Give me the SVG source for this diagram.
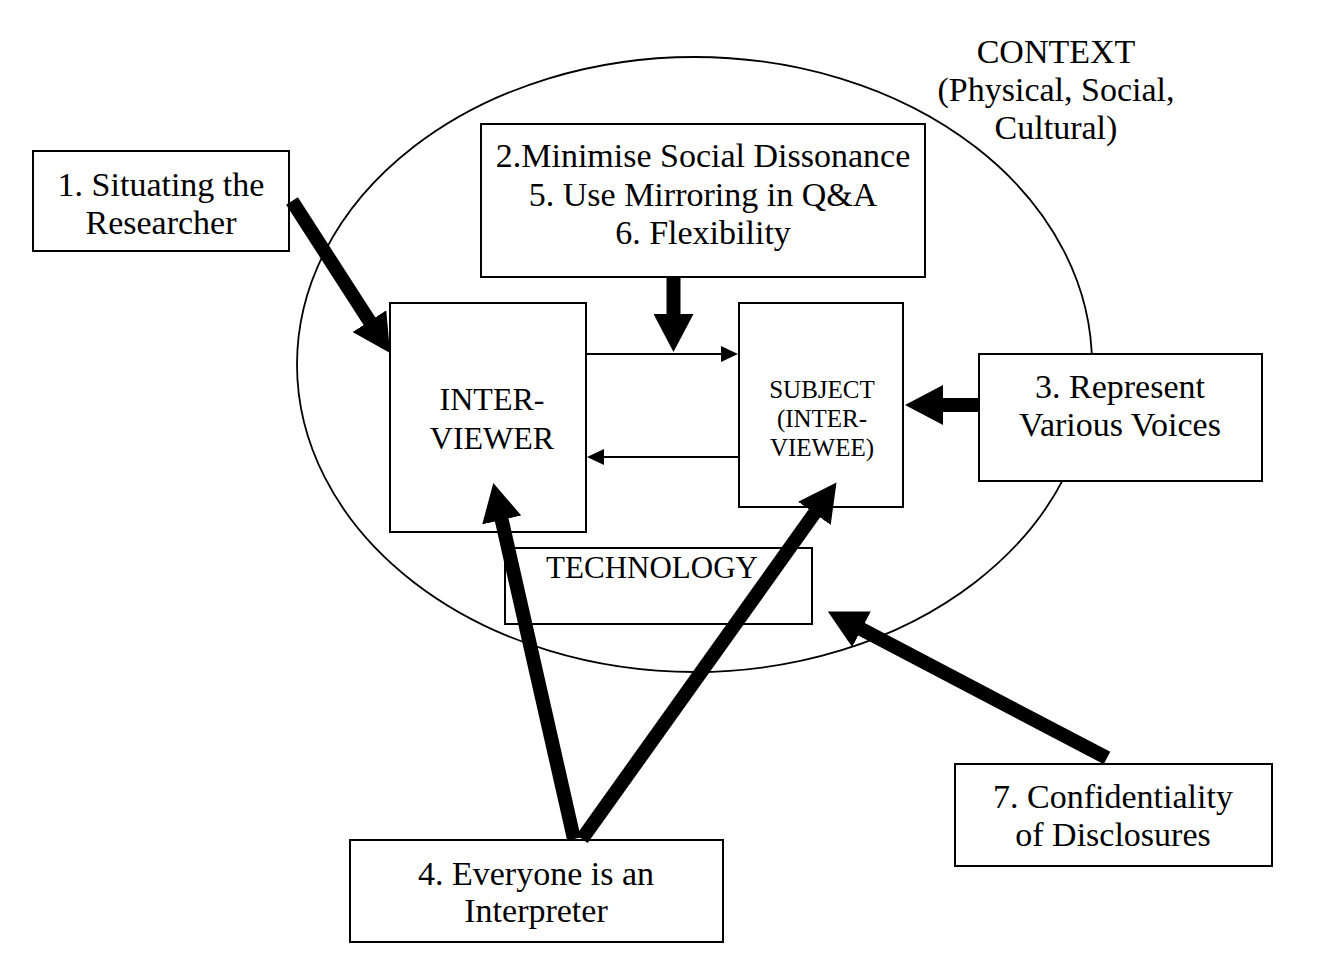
<svg xmlns="http://www.w3.org/2000/svg" width="1322" height="976" viewBox="0 0 1322 976">
<style>
  .box { fill: #fff; stroke: #000; stroke-width: 2; }
  .t { font-family: "Liberation Serif", "Times New Roman", serif; fill: #000; text-anchor: middle; }
  .big { font-size: 34px; }
  .mid { font-size: 32px; }
  .sm { font-size: 25px; }
  .thick { stroke: #000; stroke-width: 14; fill: none; marker-end: url(#head); }
  .thin { stroke: #000; stroke-width: 2; fill: none; marker-end: url(#small); }
</style>
<defs>
  <marker id="head" markerUnits="userSpaceOnUse" markerWidth="38" markerHeight="40" viewBox="0 0 38 40" refX="1" refY="20" orient="auto">
    <path d="M0,0 L38,20 L0,40 z" fill="#000"/>
  </marker>
  <marker id="small" markerUnits="userSpaceOnUse" markerWidth="17" markerHeight="16" viewBox="0 0 17 16" refX="1" refY="8" orient="auto">
    <path d="M0,0 L17,8 L0,16 z" fill="#000"/>
  </marker>
</defs>
<rect width="1322" height="976" fill="#fff"/>

<g id="context">
  <ellipse cx="694.5" cy="364.5" rx="397.5" ry="307.5" fill="none" stroke="#000" stroke-width="1.8"/>
  <text class="t big" x="1056" y="63">CONTEXT</text>
  <text class="t big" x="1056" y="101">(Physical, Social,</text>
  <text class="t big" x="1056" y="139">Cultural)</text>
</g>

<g id="situating">
  <rect class="box" x="33" y="151" width="256" height="100"/>
  <text class="t big" x="161" y="196">1. Situating the</text>
  <text class="t big" x="161" y="234">Researcher</text>
</g>

<g id="principles">
  <rect class="box" x="481" y="124" width="444" height="153"/>
  <text class="t big" x="703" y="167">2.Minimise Social Dissonance</text>
  <text class="t big" x="703" y="206">5. Use Mirroring in Q&amp;A</text>
  <text class="t big" x="703" y="244">6. Flexibility</text>
</g>

<g id="interviewer">
  <rect class="box" x="390" y="303" width="196" height="229"/>
  <text class="t mid" x="492" y="410">INTER-</text>
  <text class="t mid" x="492" y="449">VIEWER</text>
</g>

<g id="subject">
  <rect class="box" x="739" y="303" width="164" height="204"/>
  <text class="t sm" x="822" y="398">SUBJECT</text>
  <text class="t sm" x="822" y="427">(INTER-</text>
  <text class="t sm" x="822" y="456">VIEWEE)</text>
</g>

<g id="voices">
  <rect class="box" x="979" y="354" width="283" height="127"/>
  <text class="t big" x="1120" y="398">3. Represent</text>
  <text class="t big" x="1120" y="436">Various Voices</text>
</g>

<g id="technology">
  <rect class="box" x="505" y="548" width="307" height="76"/>
  <text class="t" style="font-size:31px" x="652" y="578">TECHNOLOGY</text>
</g>

<g id="confidentiality">
  <rect class="box" x="955" y="764" width="317" height="102"/>
  <text class="t big" x="1113" y="808">7. Confidentiality</text>
  <text class="t big" x="1113" y="846">of Disclosures</text>
</g>

<g id="interpreter">
  <rect class="box" x="350" y="840" width="373" height="102"/>
  <text class="t big" x="536" y="885">4. Everyone is an</text>
  <text class="t big" x="536" y="922">Interpreter</text>
</g>

<g id="connectors">
  <line class="thin" x1="587" y1="354" x2="722" y2="354"/>
  <line class="thin" x1="738" y1="457" x2="603" y2="457"/>
  <line class="thick" x1="292" y1="201" x2="370" y2="322"/>
  <line class="thick" x1="673.5" y1="277" x2="673.5" y2="315"/>
  <line class="thick" x1="979" y1="405" x2="942" y2="405"/>
  <line class="thick" x1="1107" y1="758" x2="860.6" y2="628.8"/>
  <line class="thick" x1="574" y1="839" x2="501.5" y2="519"/>
  <line class="thick" x1="582" y1="839" x2="815" y2="512.5"/>
</g>
</svg>
